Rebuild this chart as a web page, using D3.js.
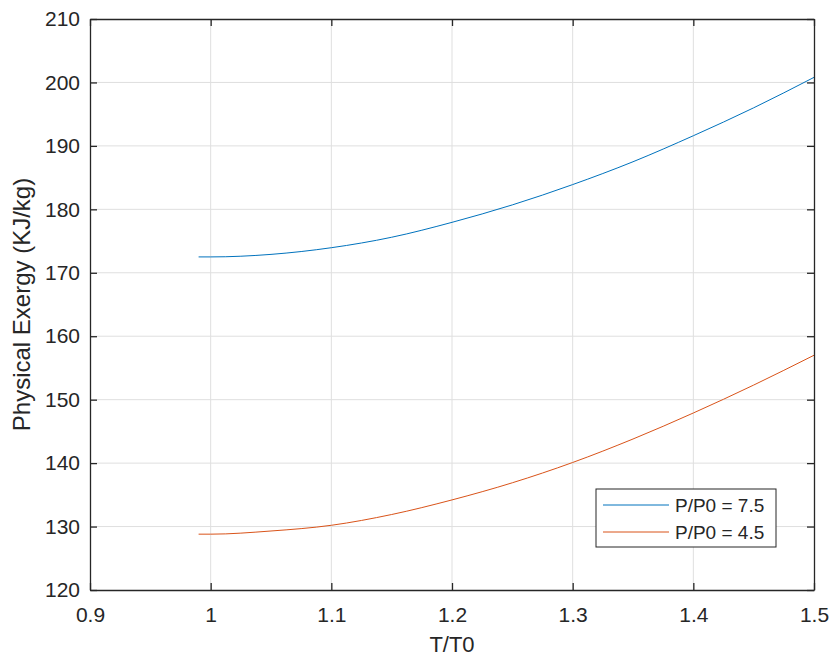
<!DOCTYPE html>
<html>
<head>
<meta charset="utf-8">
<script src="https://cdn.jsdelivr.net/npm/d3@7"></script>
<style>
  body { margin: 0; background: #fff; }
  text { font-family: "Liberation Sans", Arial, Helvetica, sans-serif; fill: #262626; }
</style>
</head>
<body>
<div id="chart"></div>
<script>
// chart size and margins (plot box goes from 90 to 814, 19 to 590)
const width = 830;
const height = 657;
const margin = {left: 90, right: 16, top: 19, bottom: 67};

// data
const ratioT = [0.99, 1.0, 1.05, 1.1, 1.15, 1.2, 1.25, 1.3, 1.35, 1.4, 1.45, 1.5];
const exergyP75 = [172.5, 172.5, 172.9, 173.95, 175.6, 177.95, 180.7, 183.9, 187.5, 191.6, 196.0, 200.8];
const exergyP45 = [128.8, 128.8, 129.3, 130.2, 131.9, 134.2, 136.9, 140.1, 143.8, 147.9, 152.3, 157.0];
const seriesNames = ["P/P0 = 7.5", "P/P0 = 4.5"];
const xTicks = [0.9, 1, 1.1, 1.2, 1.3, 1.4, 1.5];
const yTicks = [120, 130, 140, 150, 160, 170, 180, 190, 200, 210];

const colors = ["#0072BD", "#D95319"];
const series = [exergyP75, exergyP45];

const svg = d3.select("#chart")
  .append("svg")
  .attr("width", width)
  .attr("height", height);

// scales
const xScale = d3.scaleLinear()
  .domain([0.9, 1.5])
  .range([margin.left, width - margin.right]);

const yScale = d3.scaleLinear()
  .domain([120, 210])
  .range([height - margin.bottom, margin.top]);

const x0 = margin.left, x1 = width - margin.right;
const y0 = height - margin.bottom, y1 = margin.top;

// grid
svg.append("g")
  .selectAll("line")
  .data(xTicks.slice(1, -1))
  .enter().append("line")
    .attr("x1", d => xScale(d)).attr("x2", d => xScale(d))
    .attr("y1", y0).attr("y2", y1)
    .attr("stroke", "#dfdfdf").attr("stroke-width", 1);

svg.append("g")
  .selectAll("line")
  .data(yTicks.slice(1, -1))
  .enter().append("line")
    .attr("y1", d => yScale(d)).attr("y2", d => yScale(d))
    .attr("x1", x0).attr("x2", x1)
    .attr("stroke", "#dfdfdf").attr("stroke-width", 1);

// curves
const line = d3.line()
  .x((d, i) => xScale(ratioT[i]))
  .y(d => yScale(d))
  .curve(d3.curveMonotoneX);

svg.selectAll(".curve")
  .data(series)
  .enter().append("path")
    .attr("class", "curve")
    .attr("d", d => line(d))
    .attr("fill", "none")
    .attr("stroke", (d, i) => colors[i])
    .attr("stroke-width", 1);

// axes, ticks inside, box on
const axisStyle = g => {
  g.select(".domain").attr("stroke", "#262626").attr("stroke-width", 1.3);
  g.selectAll(".tick line").attr("stroke", "#262626").attr("stroke-width", 1.3);
  g.selectAll("text").attr("font-size", "21px").attr("fill", "#262626")
    .attr("font-family", "'Liberation Sans', Arial, sans-serif");
};

svg.append("g")
  .attr("transform", `translate(0,${y0})`)
  .call(d3.axisBottom(xScale).tickValues(xTicks).tickFormat(d3.format("")).tickSizeInner(-7).tickSizeOuter(0).tickPadding(17))
  .call(axisStyle);

svg.append("g")
  .attr("transform", `translate(0,${y1})`)
  .call(d3.axisTop(xScale).tickValues(xTicks).tickFormat("").tickSizeInner(-7).tickSizeOuter(0))
  .call(axisStyle);

svg.append("g")
  .attr("transform", `translate(${x0},0)`)
  .call(d3.axisLeft(yScale).tickValues(yTicks).tickSizeInner(-7).tickSizeOuter(0).tickPadding(10))
  .call(axisStyle);

svg.append("g")
  .attr("transform", `translate(${x1},0)`)
  .call(d3.axisRight(yScale).tickValues(yTicks).tickFormat("").tickSizeInner(-7).tickSizeOuter(0))
  .call(axisStyle);

// axis labels
svg.append("text")
  .attr("x", (x0 + x1) / 2)
  .attr("y", 652)
  .attr("text-anchor", "middle")
  .attr("font-size", "22px")
  .text("T/T0");

svg.append("text")
  .attr("transform", `translate(30,${(y0 + y1) / 2}) rotate(-90)`)
  .attr("text-anchor", "middle")
  .attr("font-size", "24px")
  .text("Physical Exergy (KJ/kg)");

// legend
const legend = svg.append("g").attr("transform", "translate(596,489)");
legend.append("rect")
  .attr("width", 180).attr("height", 58)
  .attr("fill", "#fff").attr("stroke", "#262626").attr("stroke-width", 1);

seriesNames.forEach((name, i) => {
  const yy = 16 + i * 27;
  legend.append("line")
    .attr("x1", 7).attr("x2", 73)
    .attr("y1", yy).attr("y2", yy)
    .attr("stroke", colors[i]).attr("stroke-width", 1);
  legend.append("text")
    .attr("x", 79).attr("y", yy + 7)
    .attr("font-size", "19px")
    .text(name);
});
</script>
</body>
</html>
